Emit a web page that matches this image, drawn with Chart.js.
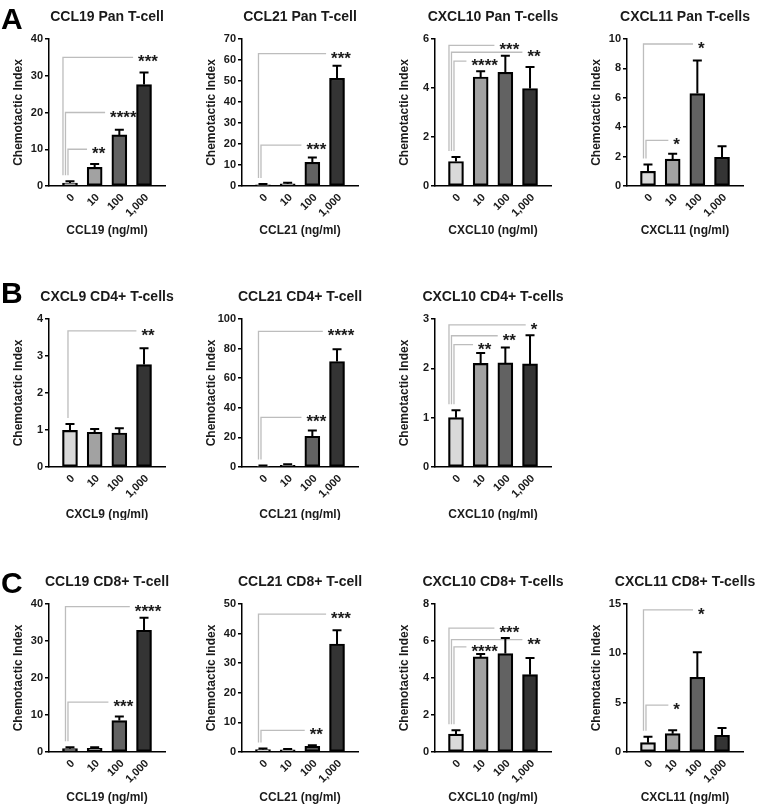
<!DOCTYPE html>
<html>
<head>
<meta charset="utf-8">
<script src="https://cdn.jsdelivr.net/npm/chart.js@4.4.0/dist/chart.umd.min.js"></script>
<style>
  body { margin: 0; background: #fff; }
  #fig { position: relative; width: 760px; height: 806px; }
  #fig canvas { position: absolute; }
</style>
</head>
<body>
<div id="fig"></div>
<script>
// dose categories (ng/ml)
const doses = ['0', '10', '100', '1,000'];

// A - Pan T-cells
const ccl19PanMean = [0.8, 5.1, 13.9, 27.6];
const ccl19PanErr = [0.5, 0.9, 1.4, 3.3];
const ccl19PanSig = [[1, 10, '**'], [2, 20, '****'], [3, 35, '***']];

const ccl21PanMean = [0.5, 1.0, 11.3, 51.3];
const ccl21PanErr = [0.5, 0.5, 2.3, 6.0];
const ccl21PanSig = [[2, 19.5, '***'], [3, 63, '***']];

const cxcl10PanMean = [1.0, 4.45, 4.64, 3.98];
const cxcl10PanErr = [0.18, 0.23, 0.68, 0.88];
const cxcl10PanSig = [[1, 5.1, '****'], [2, 5.74, '***'], [3, 5.46, '**']];

const cxcl11PanMean = [1.0, 1.83, 6.29, 1.95];
const cxcl11PanErr = [0.47, 0.37, 2.24, 0.75];
const cxcl11PanSig = [[1, 3.1, '*'], [2, 9.66, '*']];

// B - CD4+ T-cells
const cxcl9Cd4Mean = [0.99, 0.94, 0.92, 2.77];
const cxcl9Cd4Err = [0.17, 0.09, 0.13, 0.44];
const cxcl9Cd4Sig = [[3, 3.68, '**']];

const ccl21Cd4Mean = [0.5, 1.2, 20.8, 71.3];
const ccl21Cd4Err = [0.5, 0.6, 3.9, 8.3];
const ccl21Cd4Sig = [[2, 33.5, '***'], [3, 91.6, '****']];

const cxcl10Cd4Mean = [1.0, 2.1, 2.11, 2.09];
const cxcl10Cd4Err = [0.15, 0.21, 0.31, 0.58];
const cxcl10Cd4Sig = [[1, 2.48, '**'], [2, 2.66, '**'], [3, 2.88, '*']];

// C - CD8+ T-cells
const ccl19Cd8Mean = [0.9, 1.0, 8.5, 32.9];
const ccl19Cd8Err = [0.4, 0.3, 1.1, 3.4];
const ccl19Cd8Sig = [[2, 13.5, '***'], [3, 39.3, '****']];

const ccl21Cd8Mean = [0.8, 0.7, 1.9, 36.5];
const ccl21Cd8Err = [0.4, 0.3, 0.4, 4.6];
const ccl21Cd8Sig = [[2, 7.3, '**'], [3, 46.6, '***']];

const cxcl10Cd8Mean = [0.97, 5.14, 5.32, 4.18];
const cxcl10Cd8Err = [0.2, 0.16, 0.84, 0.9];
const cxcl10Cd8Sig = [[1, 5.68, '****'], [2, 6.7, '***'], [3, 6.07, '**']];

const cxcl11Cd8Mean = [0.95, 1.86, 7.57, 1.69];
const cxcl11Cd8Err = [0.6, 0.34, 2.53, 0.74];
const cxcl11Cd8Sig = [[1, 4.76, '*'], [2, 14.4, '*']];

const barColors = ['#d9d9d9', '#a2a2a2', '#626262', '#343434'];
const FONT = "'Liberation Sans', Arial, sans-serif";

const panels = [
    {row: 0, col: 0, letter: 'A', title: 'CCL19 Pan T-cell', xTitle: 'CCL19 (ng/ml)', mean: ccl19PanMean, err: ccl19PanErr, sig: ccl19PanSig, max: 40, step: 10},
    {row: 0, col: 1, title: 'CCL21 Pan T-cell', xTitle: 'CCL21 (ng/ml)', mean: ccl21PanMean, err: ccl21PanErr, sig: ccl21PanSig, max: 70, step: 10},
    {row: 0, col: 2, title: 'CXCL10 Pan T-cells', xTitle: 'CXCL10 (ng/ml)', mean: cxcl10PanMean, err: cxcl10PanErr, sig: cxcl10PanSig, max: 6, step: 2},
    {row: 0, col: 3, title: 'CXCL11 Pan T-cells', xTitle: 'CXCL11 (ng/ml)', mean: cxcl11PanMean, err: cxcl11PanErr, sig: cxcl11PanSig, max: 10, step: 2},
    {row: 1, col: 0, letter: 'B', title: 'CXCL9 CD4+ T-cells', xTitle: 'CXCL9 (ng/ml)', mean: cxcl9Cd4Mean, err: cxcl9Cd4Err, sig: cxcl9Cd4Sig, max: 4, step: 1},
    {row: 1, col: 1, title: 'CCL21 CD4+ T-cell', xTitle: 'CCL21 (ng/ml)', mean: ccl21Cd4Mean, err: ccl21Cd4Err, sig: ccl21Cd4Sig, max: 100, step: 20},
    {row: 1, col: 2, title: 'CXCL10 CD4+ T-cells', xTitle: 'CXCL10 (ng/ml)', mean: cxcl10Cd4Mean, err: cxcl10Cd4Err, sig: cxcl10Cd4Sig, max: 3, step: 1},
    {row: 2, col: 0, letter: 'C', title: 'CCL19 CD8+ T-cell', xTitle: 'CCL19 (ng/ml)', mean: ccl19Cd8Mean, err: ccl19Cd8Err, sig: ccl19Cd8Sig, max: 40, step: 10},
    {row: 2, col: 1, title: 'CCL21 CD8+ T-cell', xTitle: 'CCL21 (ng/ml)', mean: ccl21Cd8Mean, err: ccl21Cd8Err, sig: ccl21Cd8Sig, max: 50, step: 10},
    {row: 2, col: 2, title: 'CXCL10 CD8+ T-cells', xTitle: 'CXCL10 (ng/ml)', mean: cxcl10Cd8Mean, err: cxcl10Cd8Err, sig: cxcl10Cd8Sig, max: 8, step: 2},
    {row: 2, col: 3, title: 'CXCL11 CD8+ T-cells', xTitle: 'CXCL11 (ng/ml)', mean: cxcl11Cd8Mean, err: cxcl11Cd8Err, sig: cxcl11Cd8Sig, max: 15, step: 5}
];

// layout of the grid
const rows = [
    {top: 0, h: 245, plotTop: 39, plotBottom: 186, xH: 52},
    {top: 270, h: 250, plotTop: 49, plotBottom: 197, xH: 55},
    {top: 560, h: 246, plotTop: 44, plotBottom: 192, xH: 53}
];
const cols = [
    {left: 0, plotLeft: 49},
    {left: 190, plotLeft: 52},
    {left: 380, plotLeft: 55},
    {left: 570, plotLeft: 57}
];
const PLOT_W = 116;
const Y_W = 40;

// error bars, significance brackets, titles and panel letters
const decor = {
    id: 'decor',
    afterDatasetsDraw(chart, args, opts) {
        const ctx = chart.ctx;
        const xs = chart.scales.x, ys = chart.scales.y;
        const area = chart.chartArea;
        const p = opts.panel;

        ctx.save();
        // brackets
        const sorted = p.sig.slice().sort((a, b) => a[1] - b[1]);
        const base = ys.getPixelForValue(p.mean[0] + p.err[0]) - 6;
        ctx.font = 'bold 17px ' + FONT;
        sorted.forEach((s, rank) => {
            const x0 = xs.getPixelForValue(0) - 2 - rank * 2.5;
            const yl = ys.getPixelForValue(s[1]);
            const xt = xs.getPixelForValue(s[0]) + 4;
            const w = ctx.measureText(s[2]).width;
            ctx.strokeStyle = '#bdbdbd';
            ctx.lineWidth = 1.3;
            ctx.beginPath();
            ctx.moveTo(x0, base);
            ctx.lineTo(x0, yl);
            ctx.lineTo(xt - w / 2 - 5, yl);
            ctx.stroke();
            ctx.fillStyle = '#1a1a1a';
            ctx.textAlign = 'center';
            ctx.textBaseline = 'alphabetic';
            ctx.fillText(s[2], xt, yl + 10);
        });

        // error bars (upper only)
        const meta = chart.getDatasetMeta(0);
        ctx.strokeStyle = '#000';
        ctx.lineWidth = 2;
        meta.data.forEach((bar, i) => {
            const yTop = ys.getPixelForValue(p.mean[i] + p.err[i]);
            ctx.beginPath();
            ctx.moveTo(bar.x, bar.y);
            ctx.lineTo(bar.x, yTop);
            ctx.moveTo(bar.x - 4.5, yTop);
            ctx.lineTo(bar.x + 4.5, yTop);
            ctx.stroke();
        });

        // title
        ctx.fillStyle = '#1a1a1a';
        ctx.font = 'bold 14px ' + FONT;
        ctx.textAlign = 'center';
        ctx.textBaseline = 'middle';
        ctx.fillText(p.title, (area.left + area.right) / 2, area.top - 22);

        if (p.letter) {
            ctx.font = 'bold 30px ' + FONT;
            ctx.textAlign = 'left';
            ctx.textBaseline = 'alphabetic';
            ctx.fillStyle = '#000';
            ctx.fillText(p.letter, 1, p.row === 0 ? 29 : 33);
        }
        ctx.restore();
    }
};

const fig = document.getElementById('fig');

panels.forEach(p => {
    const r = rows[p.row], c = cols[p.col];
    const canvas = document.createElement('canvas');
    canvas.width = 190;
    canvas.height = r.h;
    canvas.style.left = c.left + 'px';
    canvas.style.top = r.top + 'px';
    fig.appendChild(canvas);

    const tickFont = {family: FONT, size: 11, weight: 'bold'};
    const titleFont = {family: FONT, size: 12, weight: 'bold'};

    new Chart(canvas.getContext('2d'), {
        type: 'bar',
        data: {
            datasets: [{
                data: p.mean.map((v, i) => ({x: i, y: v})),
                backgroundColor: barColors,
                borderColor: '#000',
                borderWidth: 2.2,
                borderSkipped: false,
                barThickness: 15
            }]
        },
        options: {
            responsive: false,
            animation: false,
            events: [],
            layout: {
                padding: {
                    top: r.plotTop,
                    left: c.plotLeft - Y_W,
                    right: 190 - c.plotLeft - PLOT_W,
                    bottom: r.h - r.plotBottom - r.xH
                }
            },
            plugins: {
                legend: {display: false},
                tooltip: {enabled: false},
                decor: {panel: p}
            },
            scales: {
                x: {
                    type: 'linear',
                    min: -0.85,
                    max: 3.85,
                    offset: false,
                    grid: {display: false},
                    border: {color: '#000', width: 1.5},
                    ticks: {
                        stepSize: 1,
                        includeBounds: false,
                        autoSkip: false,
                        minRotation: 45,
                        maxRotation: 45,
                        padding: -3,
                        labelOffset: 3,
                        color: '#1a1a1a',
                        font: tickFont,
                        callback: v => doses[v] !== undefined ? doses[v] : ''
                    },
                    title: {display: true, text: p.xTitle, color: '#1a1a1a', font: titleFont, padding: {top: 0, bottom: 0}},
                    afterFit: s => { s.height = r.xH; }
                },
                y: {
                    min: 0,
                    max: p.max,
                    grid: {drawOnChartArea: false, color: '#000', lineWidth: 1.5, tickLength: 4},
                    border: {color: '#000', width: 1.5},
                    ticks: {stepSize: p.step, color: '#1a1a1a', font: tickFont, padding: 2},
                    title: {display: true, text: 'Chemotactic Index', color: '#1a1a1a', font: titleFont, padding: {top: 2, bottom: 2}},
                    afterFit: s => { s.width = Y_W; }
                }
            }
        },
        plugins: [decor]
    });
});
</script>
</body>
</html>
